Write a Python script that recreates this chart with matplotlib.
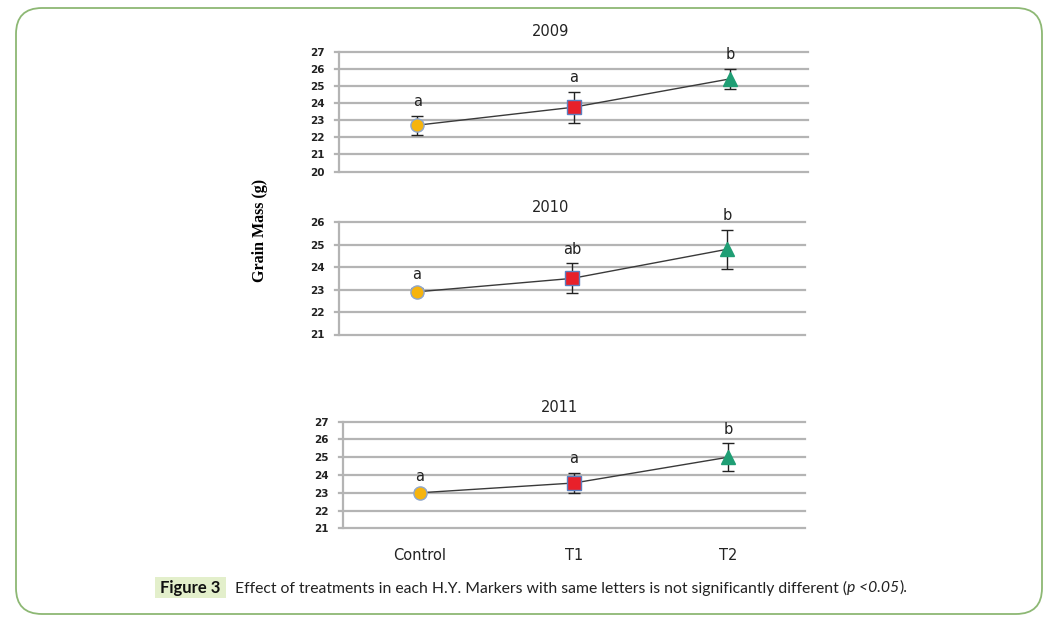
import matplotlib
matplotlib.use("Agg")
import matplotlib.pyplot as plt
from matplotlib.patches import FancyBboxPatch, Rectangle

# -----------------------------------------------------------------------------
# Data
# -----------------------------------------------------------------------------

categories = ["Control", "T1", "T2"]
years = ["2009", "2010", "2011"]

means_2009 = [22.7, 23.75, 25.4]
err_2009 = [0.55, 0.9, 0.6]
letters_2009 = ["a", "a", "b"]

means_2010 = [22.9, 23.5, 24.8]
err_2010 = [0.15, 0.67, 0.87]
letters_2010 = ["a", "ab", "b"]

means_2011 = [23.0, 23.55, 25.0]
err_2011 = [0.15, 0.58, 0.8]
letters_2011 = ["a", "a", "b"]

ylims = [(20, 27), (21, 26), (21, 27)]

# -----------------------------------------------------------------------------
# Layout (pixels)
# -----------------------------------------------------------------------------

W, H = 1058, 622
fig = plt.figure(figsize=(W / 100, H / 100), dpi=100)

# background axes in pixel units for frame and caption box
bg = fig.add_axes([0, 0, 1, 1])
bg.set_xlim(0, W)
bg.set_ylim(H, 0)
bg.axis("off")

def px_axes(left, top, right, bottom):
    return fig.add_axes([left / W, 1 - bottom / H, (right - left) / W, (bottom - top) / H])

# left, top, right, bottom, title x, title y
boxes = [(339, 51.5, 808, 171.5, 551, 32),
         (339, 222.3, 805, 334.5, 551, 207),
         (343, 421.7, 805, 528.3, 560, 408)]

markers = ["o", "s", "^"]
mcolors = ["#f6b40e", "#e8202a", "#1f9e74"]
ecolors = ["#8ea6cc", "#5b7fc0", "#1f9e74"]

grid_col = "#b4b4b4"

data = [(means_2009, err_2009, letters_2009),
        (means_2010, err_2010, letters_2010),
        (means_2011, err_2011, letters_2011)]

for k, (means, errs, letters) in enumerate(data):
    l, t, r, b, tx, ty = boxes[k]
    ax = px_axes(l, t, r, b)
    x = list(range(len(categories)))
    lo, hi = ylims[k]
    ax.set_xlim(-0.5, len(categories) - 0.5)
    ax.set_ylim(lo, hi)
    for v in range(lo, hi + 1):
        ax.axhline(v, xmin=-0.008, xmax=1, color=grid_col, lw=1.6, clip_on=False, zorder=0)
    for s in ["top", "right", "bottom"]:
        ax.spines[s].set_visible(False)
    ax.spines["left"].set_color(grid_col)
    ax.spines["left"].set_linewidth(1.6)
    ax.set_yticks(range(lo, hi + 1))
    ax.tick_params(axis="y", length=0, pad=10, labelsize=7.5, labelcolor="#222222")
    for lab in ax.get_yticklabels():
        lab.set_fontweight("bold")
    if k == 2:
        ax.set_xticks(x)
        ax.set_xticklabels(categories, fontsize=10.5, color="#222222")
        ax.tick_params(axis="x", length=0, pad=14)
    else:
        ax.set_xticks([])
    ax.patch.set_alpha(0)

    ax.plot(x, means, color="#3a3a3a", lw=1.0, zorder=2)
    ax.errorbar(x, means, yerr=errs, fmt="none", ecolor="#222222", elinewidth=1.0,
                capsize=4.5, capthick=1.0, zorder=3)
    for i in x:
        ax.plot(x[i], means[i], marker=markers[i], ms=10 if i else 9.5, color=mcolors[i],
                mec=ecolors[i], mew=1.0, zorder=4)
        ax.annotate(letters[i], (x[i], means[i] + errs[i]), xytext=(0, 14),
                    textcoords="offset pixels", ha="center", va="center",
                    fontsize=10.5, color="#222222")

    fig.text(tx / W, 1 - ty / H, years[k], ha="center", va="center",
             fontsize=10.5, color="#222222")

# y label
fig.text(260 / W, 1 - 230 / H, "Grain Mass (g)", rotation=90, ha="center", va="center",
         fontsize=11.5, fontweight="bold", family=["Liberation Serif", "DejaVu Serif"])

# outer rounded frame
frame = FancyBboxPatch((16, 8), 1042 - 16, 614 - 8,
                       boxstyle="round,pad=0,rounding_size=26",
                       fill=False, ec="#8db874", lw=1.3)
bg.add_patch(frame)

# caption
bg.add_patch(Rectangle((155, 577), 71, 21, fc="#e3efcb", ec="none"))
cap_font = ["Lato", "DejaVu Sans"]
fig.text(190 / W, 1 - 588 / H, "Figure 3", ha="center", va="center", fontsize=12,
         fontweight="bold", family=cap_font, color="#111111")

pieces = [("Effect of treatments in each H.Y. Markers with same letters is not significantly different (", "normal"),
          ("p <0.05", "italic"),
          (").", "normal")]
renderer = fig.canvas.get_renderer()

# fit the caption between x=235 and x=903
size = 11.0
total = 0
for txt, style in pieces:
    tt = fig.text(0, 0, txt, fontsize=size, style=style, family=cap_font)
    total += tt.get_window_extent(renderer=renderer).width
    tt.remove()
size = size * (903 - 235) / total

xpos = 235
for txt, style in pieces:
    tt = fig.text(xpos / W, 1 - 588 / H, txt, ha="left", va="center", fontsize=size,
                  style=style, family=cap_font, color="#222222")
    xpos += tt.get_window_extent(renderer=renderer).width

fig.savefig("out.png", dpi=100)
